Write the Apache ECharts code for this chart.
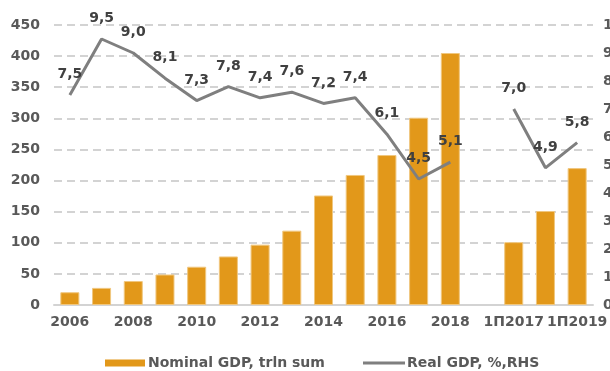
<!DOCTYPE html>
<html>
<head>
<meta charset="utf-8">
<script src="https://cdn.jsdelivr.net/npm/echarts@6/dist/echarts.min.js"></script>
<style>
  html, body { margin: 0; padding: 0; background: #ffffff; }
  #chart { width: 610px; height: 371px; }
</style>
</head>
<body>
<div id="chart"></div>
<script>
// Periods on the category axis (an empty slot separates annual and half-year data)
const categories = ['2006', '2007', '2008', '2009', '2010', '2011', '2012', '2013', '2014',
  '2015', '2016', '2017', '2018', '', '1П2017', '1П2018', '1П2019'];

// Nominal GDP, trillion sum (left axis)
const nominalGdp = [20.5, 27.5, 38.5, 49, 61.5, 78, 97, 119.5, 176,
  209, 241, 301, 405, null, 101, 151, 220];

// Real GDP growth, % (right axis)
const realGdp = [7.5, 9.5, 9.0, 8.1, 7.3, 7.8, 7.4, 7.6, 7.2,
  7.4, 6.1, 4.5, 5.1, null, 7.0, 4.9, 5.8];

const leftTicks = { min: 0, max: 450, step: 50 };
const rightTicks = { min: 0, max: 10, step: 1 };

const seriesNames = ['Nominal GDP, trln sum', 'Real GDP, %,RHS'];

const FONT = 'DejaVu Sans';
const AXIS_TEXT = '#595959';
const LABEL_TEXT = '#404040';
const BAR_COLOR = '#E2981A';
const LINE_COLOR = '#7F7F7F';
const GRID_COLOR = '#D3D3D3';

const chart = echarts.init(document.getElementById('chart'), null, { renderer: 'canvas' });

const fmtComma = v => v.toFixed(1).replace('.', ',');

const boldText = (color) => ({ fontFamily: FONT, fontSize: 14, fontWeight: 'bold', color: color });

chart.setOption({
  animation: false,
  backgroundColor: '#ffffff',
  textStyle: { fontFamily: FONT },
  grid: { left: 54, right: 17, top: 25, bottom: 66, containLabel: false, outerBoundsMode: 'none' },
  legend: [
    {
      left: 100, top: 351,
      itemWidth: 40, itemHeight: 7,
      itemStyle: { borderWidth: 0 },
      textStyle: Object.assign(boldText(AXIS_TEXT), { padding: [0, 0, 0, -2] }),
      data: [{ name: seriesNames[0], icon: 'rect', itemStyle: { color: BAR_COLOR, borderWidth: 0 } }]
    },
    {
      left: 358, top: 351,
      itemWidth: 42, itemHeight: 3,
      itemStyle: { borderWidth: 0 },
      textStyle: Object.assign(boldText(AXIS_TEXT), { padding: [0, 0, 0, -3] }),
      data: [{ name: seriesNames[1], icon: 'rect', itemStyle: { color: LINE_COLOR, borderWidth: 0 } }]
    }
  ],
  xAxis: {
    type: 'category',
    data: categories,
    boundaryGap: true,
    axisLine: { show: true, onZero: false, lineStyle: { color: GRID_COLOR, width: 2 } },
    axisTick: { show: false },
    axisLabel: Object.assign({ interval: 1, margin: 10, hideOverlap: false }, boldText(AXIS_TEXT))
  },
  yAxis: [
    {
      type: 'value',
      min: leftTicks.min, max: leftTicks.max, interval: leftTicks.step,
      axisLine: { show: false },
      axisTick: { show: false },
      splitLine: { show: true, lineStyle: { color: GRID_COLOR, width: 2, type: [8, 5] } },
      axisLabel: Object.assign({ margin: 14 }, boldText(AXIS_TEXT))
    },
    {
      type: 'value',
      min: rightTicks.min, max: rightTicks.max, interval: rightTicks.step,
      position: 'right',
      axisLine: { show: false },
      axisTick: { show: false },
      splitLine: { show: false },
      axisLabel: Object.assign({ margin: 10 }, boldText(AXIS_TEXT))
    }
  ],
  series: [
    {
      name: seriesNames[0],
      type: 'bar',
      yAxisIndex: 0,
      data: nominalGdp,
      barWidth: '60%',
      itemStyle: { color: BAR_COLOR, borderColor: '#F0C77F', borderWidth: 1 },
      z: 2
    },
    {
      name: seriesNames[1],
      type: 'line',
      yAxisIndex: 1,
      data: realGdp,
      connectNulls: false,
      symbol: 'circle',
      symbolSize: 1,
      showSymbol: true,
      itemStyle: { color: 'rgba(0,0,0,0)' },
      lineStyle: { color: LINE_COLOR, width: 3 },
      label: Object.assign({
        show: true,
        position: 'top',
        distance: 13,
        formatter: p => fmtComma(p.value)
      }, boldText(LABEL_TEXT)),
      z: 3
    }
  ]
});
</script>
</body>
</html>
